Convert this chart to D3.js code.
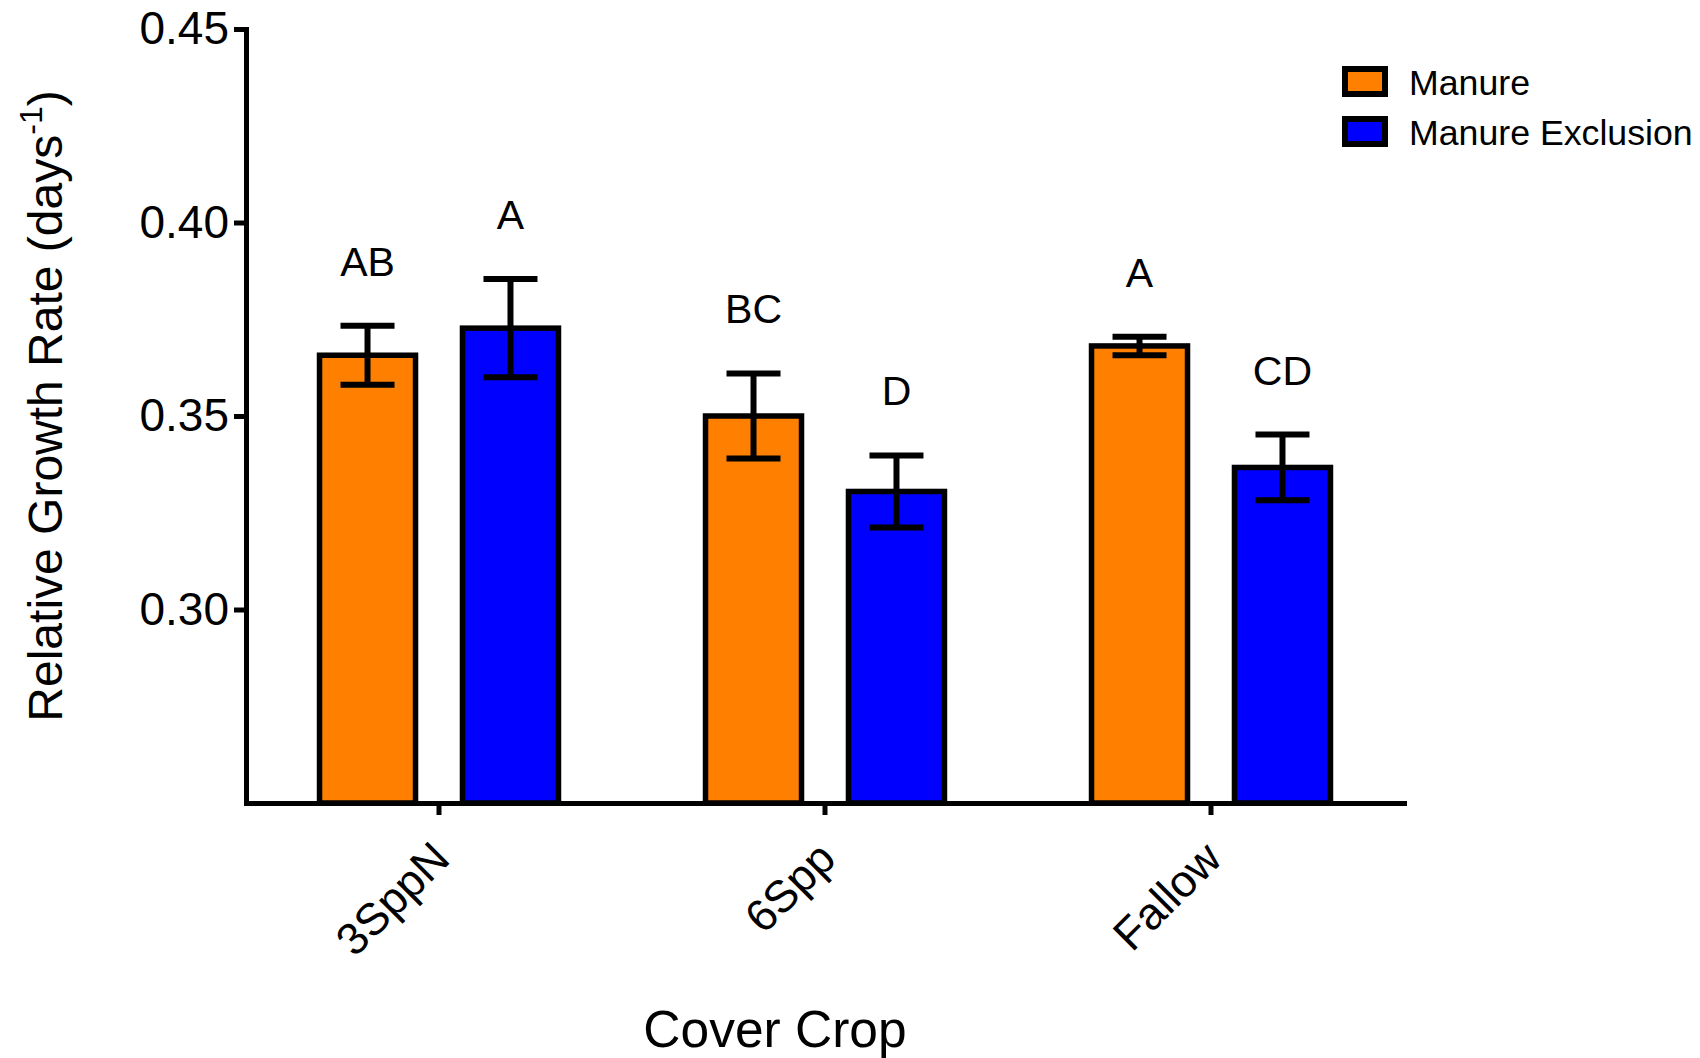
<!DOCTYPE html>
<html>
<head>
<meta charset="utf-8">
<script src="https://cdn.jsdelivr.net/npm/d3@7"></script>
<style>
  body { margin: 0; background: #fff; }
  svg text { font-family: "Liberation Sans", Arial, sans-serif; fill: #000; }
</style>
</head>
<body>
<div id="app"></div>
<script>
// Values
const categories = ["3SppN", "6Spp", "Fallow"];
const series = ["Manure", "Manure Exclusion"];
const seriesColors = ["#ff8000", "#0000ff"];
const manureMean = [0.3657, 0.3500, 0.3681];
const manureSem = [0.0076, 0.0110, 0.0024];
const exclusionMean = [0.3727, 0.3305, 0.3367];
const exclusionSem = [0.0127, 0.0093, 0.0085];
const manureLetters = ["AB", "BC", "A"];
const exclusionLetters = ["A", "D", "CD"];
const yTicks = [0.30, 0.35, 0.40, 0.45];

function drawPlot(targetDiv) {
  const width = 1700;
  const height = 1058;
  const margin = {top: 29, bottom: 255, left: 246, right: 296};

  const svg = d3.select(targetDiv).append("svg")
    .attr("width", width)
    .attr("height", height)
    .attr("viewBox", [0, 0, width, height]);

  // one row per bar
  const rows = categories.flatMap((c, i) => [
    {cat: c, s: series[0], mean: manureMean[i], sem: manureSem[i], letter: manureLetters[i], color: seriesColors[0]},
    {cat: c, s: series[1], mean: exclusionMean[i], sem: exclusionSem[i], letter: exclusionLetters[i], color: seriesColors[1]}
  ]);

  const x = d3.scaleBand()
    .domain(categories)
    .range([margin.left, width - margin.right]);

  const xs = d3.scaleBand()
    .domain(series)
    .range([0, x.bandwidth()])
    .paddingInner(0.34)
    .paddingOuter(0.52);

  const y = d3.scaleLinear()
    .domain([0.25, 0.45])
    .range([height - margin.bottom, margin.top]);

  const barW = 96;
  const capW = 54;
  const cx = d => x(d.cat) + xs(d.s) + xs.bandwidth() / 2;

  // bars
  svg.append("g")
    .selectAll("rect")
    .data(rows)
    .join("rect")
      .attr("x", d => cx(d) - barW / 2)
      .attr("width", barW)
      .attr("y", d => y(d.mean))
      .attr("height", d => y(0.25) - y(d.mean))
      .attr("fill", d => d.color)
      .attr("stroke", "#000")
      .attr("stroke-width", 5.5);

  // error bars
  const err = svg.append("g")
    .attr("stroke", "#000")
    .attr("stroke-width", 6)
    .selectAll("g")
    .data(rows)
    .join("g");
  err.append("line")
    .attr("x1", cx).attr("x2", cx)
    .attr("y1", d => y(d.mean + d.sem))
    .attr("y2", d => y(d.mean - d.sem));
  err.append("line")
    .attr("x1", d => cx(d) - capW / 2).attr("x2", d => cx(d) + capW / 2)
    .attr("y1", d => y(d.mean + d.sem)).attr("y2", d => y(d.mean + d.sem));
  err.append("line")
    .attr("x1", d => cx(d) - capW / 2).attr("x2", d => cx(d) + capW / 2)
    .attr("y1", d => y(d.mean - d.sem)).attr("y2", d => y(d.mean - d.sem));

  // significance letters
  svg.append("g")
    .selectAll("text")
    .data(rows)
    .join("text")
      .attr("x", cx)
      .attr("y", d => y(d.mean + d.sem) - 50)
      .attr("text-anchor", "middle")
      .attr("font-size", 41)
      .text(d => d.letter);

  // axes
  const yAxis = svg.append("g")
    .attr("transform", `translate(${margin.left}, 0)`)
    .call(d3.axisLeft(y).tickValues(yTicks).tickFormat(d3.format(".2f"))
      .tickSize(12).tickSizeOuter(0).tickPadding(5));

  const xAxis = svg.append("g")
    .attr("transform", `translate(0, ${y(0.25)})`)
    .call(d3.axisBottom(x).tickSize(12).tickSizeOuter(0));

  [yAxis, xAxis].forEach(ax => {
    ax.attr("font-family", null);
    ax.select(".domain").attr("stroke-width", 5).attr("stroke-linecap", "square");
    ax.selectAll(".tick line").attr("stroke-width", 5);
    ax.selectAll(".tick text").attr("font-size", 45);
  });
  yAxis.selectAll(".tick text").attr("font-size", 46);

  xAxis.selectAll(".tick text")
    .attr("x", 0).attr("y", 0).attr("dy", 0)
    .attr("text-anchor", "end")
    .attr("transform", "translate(13, 58) rotate(-45)");

  // axis titles
  svg.append("text")
    .attr("x", x.range()[0] + (x.range()[1] - x.range()[0]) / 2 - 50)
    .attr("y", 1047)
    .attr("text-anchor", "middle")
    .attr("font-size", 51.5)
    .text("Cover Crop");

  const yTitle = svg.append("text")
    .attr("transform", `translate(62, 406) rotate(-90)`)
    .attr("text-anchor", "middle")
    .attr("font-size", 48);
  yTitle.append("tspan").text("Relative Growth Rate (days");
  yTitle.append("tspan").attr("font-size", 32).attr("dy", -20).text("-1");
  yTitle.append("tspan").attr("dy", 20).text(")");

  // legend
  const legend = svg.append("g")
    .selectAll("g")
    .data(series)
    .join("g")
      .attr("transform", (d, i) => `translate(1345, ${69 + i * 50})`);
  legend.append("rect")
    .attr("width", 40)
    .attr("height", 25)
    .attr("fill", (d, i) => seriesColors[i])
    .attr("stroke", "#000")
    .attr("stroke-width", 6);
  legend.append("text")
    .attr("x", 64)
    .attr("y", 26)
    .attr("font-size", 35.7)
    .text(d => d);
}

function main() {
  drawPlot("#app");
}

document.addEventListener("DOMContentLoaded", main);
</script>
</body>
</html>
